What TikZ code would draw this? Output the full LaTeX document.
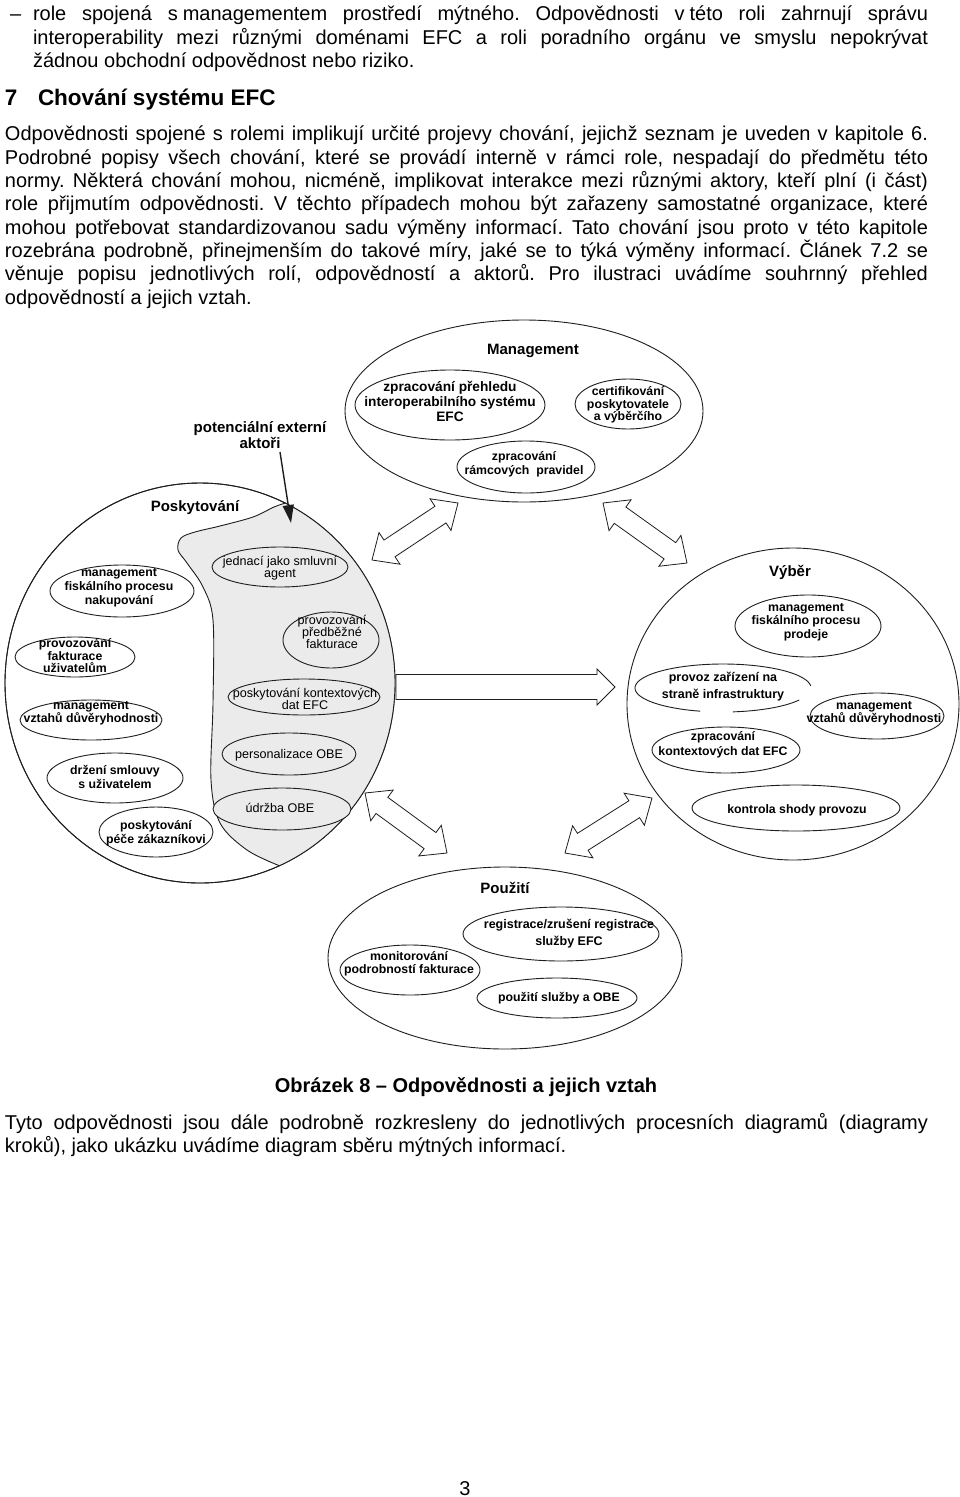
\documentclass[tikz,border=0pt]{standalone}
\usepackage{fontspec}
\setmainfont{Liberation Sans}
\usetikzlibrary{calc,arrows.meta,shapes.geometric}
\definecolor{gfill}{HTML}{EBEBEB}
\definecolor{lc}{HTML}{1E1E1E}
\newcommand\ahl{21pt}
\newcommand\ahw{19pt}
\newcommand\asw{10pt}
\newcommand\dblarr[2]{\draw[blk] (#1) -- ($(#1)!\ahl!(#2)!\ahw!90:(#2)$) -- ($(#1)!\ahl!(#2)!\asw!90:(#2)$) -- ($(#2)!\ahl!(#1)!\asw!-90:(#1)$) -- ($(#2)!\ahl!(#1)!\ahw!-90:(#1)$) -- (#2) -- ($(#2)!\ahl!(#1)!\ahw!90:(#1)$) -- ($(#2)!\ahl!(#1)!\asw!90:(#1)$) -- ($(#1)!\ahl!(#2)!\asw!-90:(#2)$) -- ($(#1)!\ahl!(#2)!\ahw!-90:(#2)$) -- cycle;}
\newcommand\sglarr[2]{\draw[blk] ($(#1)!12.5pt!90:(#2)$) -- ($(#2)!18pt!(#1)!12.5pt!-90:(#1)$) -- ($(#2)!18pt!(#1)!18pt!-90:(#1)$) -- (#2) -- ($(#2)!18pt!(#1)!18pt!90:(#1)$) -- ($(#2)!18pt!(#1)!12.5pt!90:(#1)$) -- ($(#1)!12.5pt!-90:(#2)$) -- cycle;}
\frenchspacing
\begin{document}
\begin{tikzpicture}[x=1pt,y=-1pt,
  body/.style={anchor=base west, inner sep=0pt, outer sep=0pt, font=\fontsize{20}{23.3}\selectfont},
  el/.style={draw=lc, line width=0.9pt, ellipse, inner sep=0pt, fill=white},
  gel/.style={el, fill=gfill},
  dtb/.style={align=center, inner sep=0pt, font=\bfseries\fontsize{12.3}{14}\selectfont},
  dtr/.style={align=center, inner sep=0pt, font=\fontsize{12.6}{12}\selectfont},
  lbl/.style={inner sep=0pt, font=\bfseries\fontsize{15}{16}\selectfont},
  blk/.style={draw=lc, line width=0.8pt, fill=white, line join=miter},
  crv/.style={draw=lc, line width=0.9pt},
]
\fill[white] (0,0) rectangle (960,1497);
\path[use as bounding box] (0,0) rectangle (960,1497);

% ---------- body text ----------
\node[body] (d0) at (10,20) {–};
\node[body] (t1) at (33,20) {\makebox[895pt][s]{role spojená s\hspace{5pt}managementem prostředí mýtného. Odpovědnosti v\hspace{5pt}této roli zahrnují správu}};
\node[body] (t2) at (33,44) {\makebox[895pt][s]{interoperability mezi různými doménami EFC a roli poradního orgánu ve smyslu nepokrývat}};
\node[body] (t3) at (33,67) {žádnou obchodní odpovědnost nebo riziko.};
\node[body, font=\bfseries\fontsize{22.5}{26}\selectfont] (h7) at (5,105) {7};
\node[body, font=\bfseries\fontsize{22.5}{26}\selectfont] (h7b) at (38,105) {Chování systému EFC};
\node[body] (p1) at (5,140) {\makebox[923pt][s]{Odpovědnosti spojené s rolemi implikují určité projevy chování, jejichž seznam je uveden v kapitole 6.}};
\node[body] (p2) at (5,164) {\makebox[923pt][s]{Podrobné popisy všech chování, které se provádí interně v rámci role, nespadají do předmětu této}};
\node[body] (p3) at (5,187) {\makebox[923pt][s]{normy. Některá chování mohou, nicméně, implikovat interakce mezi různými aktory, kteří plní (i část)}};
\node[body] (p4) at (5,210) {\makebox[923pt][s]{role přijmutím odpovědnosti. V těchto případech mohou být zařazeny samostatné organizace, které}};
\node[body] (p5) at (5,234) {\makebox[923pt][s]{mohou potřebovat standardizovanou sadu výměny informací. Tato chování jsou proto v této kapitole}};
\node[body] (p6) at (5,257) {\makebox[923pt][s]{rozebrána podrobně, přinejmenším do takové míry, jaké se to týká výměny informací. Článek 7.2 se}};
\node[body] (p7) at (5,280) {\makebox[923pt][s]{věnuje popisu jednotlivých rolí, odpovědností a aktorů. Pro ilustraci uvádíme souhrnný přehled}};
\node[body] (p8) at (5,304) {odpovědností a jejich vztah.};

\node[body, anchor=base, font=\bfseries\fontsize{20}{23.3}\selectfont] (cap) at (466,1092) {Obrázek 8 – Odpovědnosti a jejich vztah};
\node[body] (q1) at (5,1129) {\makebox[923pt][s]{Tyto odpovědnosti jsou dále podrobně rozkresleny do jednotlivých procesních diagramů (diagramy}};
\node[body] (q2) at (5,1152) {kroků), jako ukázku uvádíme diagram sběru mýtných informací.};
\node[body, anchor=base] (pg) at (465,1495) {3};

% ---------- outer ellipses ----------
\node[el, minimum width=358, minimum height=182] (mgmt) at (524,411) {};
\node[el, minimum width=332, minimum height=312] (vyb) at (793,704) {};
\node[el, minimum width=354, minimum height=182] (pouz) at (505,958) {};
\node[el, minimum width=390, minimum height=400] (posk) at (200,683) {};

% gray region of Poskytovani
\fill[gfill] plot[domain=-64:66, samples=90, variable=\t] ({200+195*cos(\t)},{683+200*sin(\t)})
  -- plot[smooth, tension=0.55] coordinates {(279.3,865.7) (247,850) (220,823) (211,780) (213,703) (213,620) (203,587) (187,563) (178,550) (181,538) (195,532) (220,526) (253,517) (274,507) (285.5,503)} -- cycle;
\draw[crv] plot[smooth, tension=0.55] coordinates {(279.3,865.7) (247,850) (220,823) (211,780) (213,703) (213,620) (203,587) (187,563) (178,550) (181,538) (195,532) (220,526) (253,517) (274,507) (285.5,503)};
\draw[crv] (posk.center) ellipse [x radius=195pt, y radius=200pt];

% ---------- Management ----------
\node[lbl] (mgmtL) at (533,351) {Management};
\node[el, minimum width=190, minimum height=70] (m1) at (450,405) {};
\node[dtb, font=\bfseries\fontsize{13.7}{15}\selectfont] (m1t) at (450,401) {zpracování přehledu\\interoperabilního systému\\EFC};
\node[el, minimum width=106, minimum height=50] (m2) at (628,404) {};
\node[dtb, font=\bfseries\fontsize{12.3}{12.5}\selectfont] (m2t) at (628,405) {certifikování\\poskytovatele\\a výběrčího};
\node[el, minimum width=138, minimum height=52] (m3) at (526,467) {};
\node[dtb, font=\bfseries\fontsize{12.3}{14}\selectfont] (m3t) at (524,464) {zpracování\\rámcových\ \ pravidel};

% ---------- Poskytovani ----------
\node[lbl] (poskL) at (195,508) {Poskytování};
\node[el, minimum width=144, minimum height=52] (s1) at (122,591) {};
\node[dtb] (s1t) at (119,588) {management\\fiskálního procesu\\nakupování};
\node[el, minimum width=120, minimum height=40] (s2) at (75,657) {};
\node[dtb, font=\bfseries\fontsize{12.3}{12.5}\selectfont] (s2t) at (75,656) {provozování\\fakturace\\uživatelům};
\node[el, minimum width=142, minimum height=40] (s3) at (91,720) {};
\node[dtb, font=\bfseries\fontsize{12.3}{11}\selectfont] (s3t) at (91,713) {management\\vztahů důvěryhodnosti};
\node[el, minimum width=136, minimum height=50] (s4) at (115,778) {};
\node[dtb] (s4t) at (115,777) {držení smlouvy\\s uživatelem};
\node[el, minimum width=114, minimum height=50] (s5) at (156,832) {};
\node[dtb] (s5t) at (156,833) {poskytování\\péče zákazníkovi};

\node[gel, minimum width=136, minimum height=40] (g1) at (280,567) {};
\node[dtr] (g1t) at (280,568) {jednací jako smluvní\\agent};
\node[gel, minimum width=96, minimum height=56] (g2) at (331,640) {};
\node[dtr] (g2t) at (332,632) {provozování\\předběžné\\fakturace};
\node[gel, minimum width=152, minimum height=36] (g3) at (304,697) {};
\node[dtr] (g3t) at (305,699) {poskytování kontextových\\dat EFC};
\node[gel, minimum width=134, minimum height=42] (g4) at (289,754) {};
\node[dtr] (g4t) at (289,755) {personalizace OBE};
\node[gel, minimum width=138, minimum height=42] (g5) at (282,809) {};
\node[dtr] (g5t) at (280,808) {údržba OBE};

% potential external actors
\node[lbl, align=center] (potT) at (260,435) {potenciální externí\\aktoři};
\coordinate (pa1) at (280,452);
\coordinate (pa2) at (291,523);
\draw[lc, line width=1.4pt, -{Triangle[length=18pt,width=11pt]}] (pa1) -- (pa2);

% ---------- Vyber ----------
\node[lbl] (vybL) at (790,572) {Výběr};
\node[el, minimum width=146, minimum height=62] (v1) at (808,626) {};
\node[dtb, font=\bfseries\fontsize{12.3}{13.5}\selectfont] (v1t) at (806,622) {management\\fiskálního procesu\\prodeje};
\draw[crv] plot[domain=30:83.5, samples=30, variable=\t] ({723+88*cos(\t)},{688+24*sin(\t)});
\draw[crv] plot[domain=105:355, samples=80, variable=\t] ({723+88*cos(\t)},{688+24*sin(\t)});
\node[dtb, font=\bfseries\fontsize{12.5}{17}\selectfont] (v2t) at (723,687) {provoz zařízení na\\straně infrastruktury};
\node[el, minimum width=134, minimum height=46] (v3) at (877,716) {};
\node[dtb, font=\bfseries\fontsize{12.3}{11}\selectfont] (v3t) at (874,713) {management\\vztahů důvěryhodnosti};
\node[el, minimum width=148, minimum height=46] (v4) at (726,750) {};
\node[dtb, font=\bfseries\fontsize{12.3}{15}\selectfont] (v4t) at (723,745) {zpracování\\kontextových dat EFC};
\node[el, minimum width=208, minimum height=46] (v5) at (796,808) {};
\node[dtb] (v5t) at (797,810) {kontrola shody provozu};

% ---------- Pouziti ----------
\node[lbl] (pouzL) at (505,888) {Použití};
\node[el, minimum width=196, minimum height=54] (u1) at (561,934) {};
\node[dtb, font=\bfseries\fontsize{12.5}{17}\selectfont] (u1t) at (569,934) {registrace/zrušení registrace\\služby EFC};
\node[el, minimum width=140, minimum height=50] (u2) at (410,970) {};
\node[dtb, font=\bfseries\fontsize{12.3}{13}\selectfont] (u2t) at (409,964) {monitorování\\podrobností fakturace};
\node[el, minimum width=160, minimum height=40] (u3) at (557,998) {};
\node[dtb] (u3t) at (559,998) {použití služby a OBE};

% ---------- block arrows ----------
\coordinate (aA1) at (372,560); \coordinate (aA2) at (458,503);
\coordinate (aB1) at (603,503); \coordinate (aB2) at (687,563);
\coordinate (aD1) at (365,793); \coordinate (aD2) at (447,853);
\coordinate (aE1) at (565,853); \coordinate (aE2) at (652,798);
\coordinate (aC1) at (396,687); \coordinate (aC2) at (615,687);
\dblarr{aA1}{aA2}
\dblarr{aB1}{aB2}
\dblarr{aD1}{aD2}
\dblarr{aE1}{aE2}
\sglarr{aC1}{aC2}
\end{tikzpicture}
\end{document}
